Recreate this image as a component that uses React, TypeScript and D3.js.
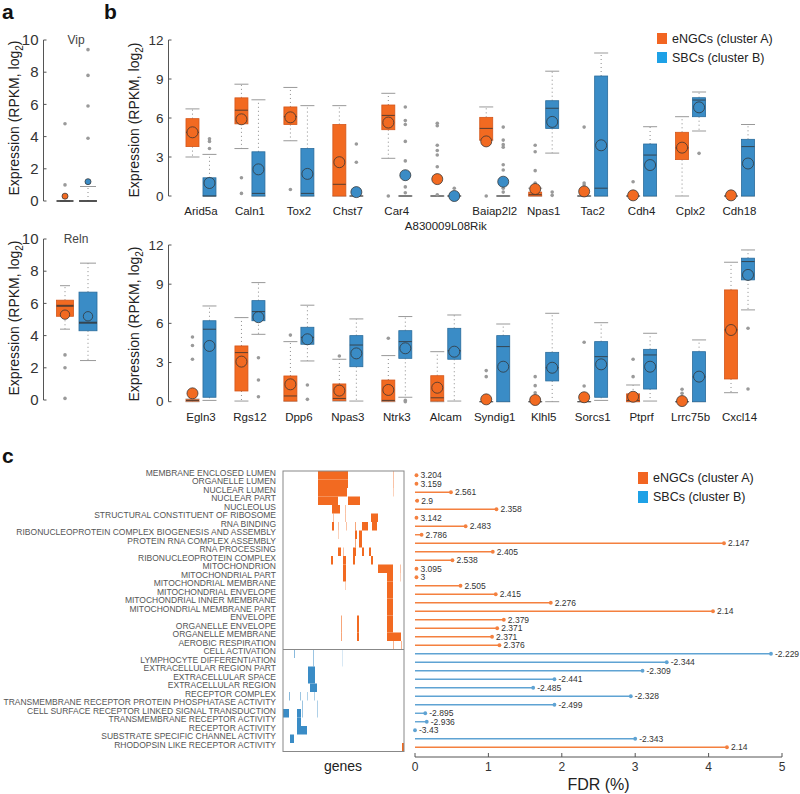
import React from "react";
import * as d3 from "d3";

const ORANGE = "#f26a21";
const ORANGE_LINE = "#d4561a";
const BLUE = "#3a8cc6";
const BLUE_LINE = "#2a6c9c";
const LEG_ORANGE = "#f26522";
const LEG_BLUE = "#1ea1e6";
const LOLLI_ORANGE = "#f4803f";
const LOLLI_BLUE = "#5fa3d3";
const FONT = "'Liberation Sans', Arial, Helvetica, sans-serif";

// box stats: [whiskerLow, q1, median, q3, whiskerHigh, mean]
const panelAGenes = ["Vip", "Reln"];
const panelAEngc = [
  [0, 0, 0, 0, 0, 0.3],
  [4.4, 5.2, 5.85, 6.2, 7.1, 5.3],
];
const panelAEngcOut = [[4.8, 1.0], [2.8, 2.0, 0.1]];
const panelASbc = [
  [0, 0, 0, 0, 0.9, 1.2],
  [2.45, 4.3, 4.8, 6.7, 8.5, 5.2],
];
const panelASbcOut = [[9.4, 7.8, 5.9, 3.9], []];
const panelATicks = [0, 2, 4, 6, 8, 10];

const topGenes = ["Arid5a", "Caln1", "Tox2", "Chst7", "Car4", "A830009L08Rik", "Baiap2l2", "Npas1", "Tac2", "Cdh4", "Cplx2", "Cdh18"];
const topEngc = [
  [3.0, 3.8, 4.9, 5.95, 6.7, 4.9],
  [3.65, 5.55, 6.6, 7.55, 8.6, 5.9],
  [4.25, 5.5, 6.1, 6.85, 8.35, 6.05],
  [0, 0, 0.9, 5.5, 6.95, 2.6],
  [2.9, 5.1, 6.2, 7.0, 7.9, 5.65],
  [0, 0, 0, 0, 0, 1.3],
  [4.3, 4.3, 5.2, 6.05, 6.85, 4.2],
  [0, 0, 0.1, 0.3, 0.6, 0.54],
  [0, 0, 0, 0, 0, 0.35],
  [0, 0, 0, 0, 0, 0.05],
  [0, 2.8, 3.7, 4.9, 6.1, 3.72],
  [0, 0, 0, 0, 0, 0.05],
];
const topEngcOut = [
  [], [1.4, 0.2], [0.5], [], [0],
  [5.6, 5.4, 3.9, 3.5, 3.15, 2.25, 0.1],
  [0], [3.9, 3.4, 1.95, 1.0, 0.85], [5.3, 1.0, 0.85], [1.1], [], [],
];
const topSbc = [
  [0, 0, 0, 1.4, 3.2, 1.0],
  [0, 0, 0.2, 3.4, 7.4, 2.05],
  [0, 0, 0.2, 3.65, 6.95, 1.7],
  [0, 0, 0, 0, 0, 0.3],
  [0, 0, 0, 0, 0, 1.6],
  [0, 0, 0, 0, 0, 0],
  [0, 0, 0, 0, 0, 1.1],
  [3.3, 5.2, 6.75, 7.33, 9.6, 5.7],
  [0, 0, 0.6, 9.23, 11.0, 3.9],
  [0, 0, 3.15, 4.0, 5.33, 2.38],
  [5.0, 6.1, 7.38, 7.56, 8.0, 6.82],
  [0, 0, 3.8, 4.36, 5.5, 2.5],
];
const topSbcOut = [
  [4.4, 4.2, 3.65], [], [], [4.0, 2.6],
  [6.85, 5.8, 5.5, 4.2, 2.7, 0.7, 0.25],
  [0.6, 0.15],
  [5.3, 4.3, 3.95, 3.75, 2.4, 2.0, 0.6, 0.3],
  [0.3, 0.05], [], [], [3.28], [],
];

const botGenes = ["Egln3", "Rgs12", "Dpp6", "Npas3", "Ntrk3", "Alcam", "Syndig1", "Klhl5", "Sorcs1", "Ptprf", "Lrrc75b", "Cxcl14"];
const botEngc = [
  [0, 0.05, 0.1, 0.15, 0.2, 0.64],
  [0.05, 0.82, 3.76, 4.27, 6.44, 3.07],
  [0.05, 0.05, 0.44, 1.97, 4.6, 1.33],
  [0.05, 0.1, 0.25, 1.36, 3.25, 0.85],
  [0, 0.05, 0.1, 1.66, 3.53, 0.9],
  [0, 0.05, 0.3, 1.99, 3.83, 1.07],
  [0, 0, 0, 0, 0, 0.18],
  [0, 0, 0, 0, 0, 0.13],
  [0, 0, 0, 0, 0, 0.34],
  [0, 0, 0.1, 0.6, 1.28, 0.38],
  [0, 0, 0, 0, 0, 0.05],
  [0.69, 1.74, 5.5, 8.56, 10.68, 5.49],
];
const botEngcOut = [
  [4.96, 4.3, 3.25, 0.3], [], [5.1], [3.5], [4.86], [],
  [2.38, 1.92], [1.92, 1.23, 0.69], [4.55, 1.2], [3.25, 1.92], [0.95, 0.64], [],
];
const botSbc = [
  [0.1, 0.34, 5.55, 6.2, 7.33, 4.27],
  [5.16, 6.2, 6.9, 7.74, 9.12, 6.47],
  [3.12, 4.4, 4.93, 5.7, 7.39, 4.78],
  [0.05, 2.68, 4.34, 5.06, 6.34, 3.7],
  [0.34, 3.32, 4.6, 5.44, 6.52, 4.09],
  [0.05, 3.25, 3.9, 5.62, 6.64, 3.83],
  [0, 0, 4.22, 5.06, 5.95, 2.68],
  [0, 1.59, 2.6, 3.78, 6.77, 2.6],
  [0.1, 0.34, 3.45, 4.6, 6.05, 2.86],
  [0.05, 0.97, 3.58, 4.01, 5.24, 2.68],
  [0, 0, 1.9, 3.83, 4.73, 1.92],
  [7.03, 9.33, 10.73, 10.99, 11.62, 9.71],
];
const botSbcOut = [
  [], [3.37, 1.66, 0.38], [1.28, 0.18], [], [0.1, 0.0], [],
  [], [], [], [], [], [5.62, 0.97],
];
const panelBTicks = [0, 3, 6, 9, 12];

const terms = [
  "MEMBRANE ENCLOSED LUMEN", "ORGANELLE LUMEN", "NUCLEAR LUMEN", "NUCLEAR PART", "NUCLEOLUS",
  "STRUCTURAL CONSTITUENT OF RIBOSOME", "RNA BINDING", "RIBONUCLEOPROTEIN COMPLEX BIOGENESIS AND ASSEMBLY",
  "PROTEIN RNA COMPLEX ASSEMBLY", "RNA PROCESSING", "RIBONUCLEOPROTEIN COMPLEX", "MITOCHONDRION",
  "MITOCHONDRIAL PART", "MITOCHONDRIAL MEMBRANE", "MITOCHONDRIAL ENVELOPE", "MITOCHONDRIAL INNER MEMBRANE",
  "MITOCHONDRIAL MEMBRANE PART", "ENVELOPE", "ORGANELLE ENVELOPE", "ORGANELLE MEMBRANE", "AEROBIC RESPIRATION",
  "CELL ACTIVATION", "LYMPHOCYTE DIFFERENTIATION", "EXTRACELLULAR REGION PART", "EXTRACELLULAR SPACE",
  "EXTRACELLULAR REGION", "RECEPTOR COMPLEX", "TRANSMEMBRANE RECEPTOR PROTEIN PHOSPHATASE ACTIVITY",
  "CELL SURFACE RECEPTOR LINKED SIGNAL TRANSDUCTION", "TRANSMEMBRANE RECEPTOR ACTIVITY", "RECEPTOR ACTIVITY",
  "SUBSTRATE SPECIFIC CHANNEL ACTIVITY", "RHODOPSIN LIKE RECEPTOR ACTIVITY",
];
const termScore = [
  "3.204", "3.159", "2.561", "2.9", "2.358", "3.142", "2.483", "2.786", "2.147", "2.405", "2.538",
  "3.095", "3", "2.505", "2.415", "2.276", "2.14", "2.379", "2.371", "2.371", "2.376",
  "-2.229", "-2.344", "-2.309", "-2.441", "-2.485", "-2.328", "-2.499", "-2.895", "-2.936", "-3.43",
  "-2.343", "2.14",
];
const termFdr = [
  0.02, 0.02, 0.49, 0.03, 1.11, 0.02, 0.69, 0.09, 4.21, 1.06, 0.51, 0.02, 0.02, 0.62, 1.1, 1.85,
  4.06, 1.21, 1.12, 1.05, 1.15, 4.85, 3.43, 3.1, 1.9, 1.61, 2.94, 1.9, 0.14, 0.16, 0.0, 3.0, 4.25,
];
const fdrTicks = [0, 1, 2, 3, 4, 5];

// leading-edge gene membership: [term row, first gene, last gene, intensity]
const heatRuns = [
  [0, 35, 65, 1], [0, 110, 111, 0.4], [1, 35, 65, 1], [1, 110, 111, 0.4],
  [2, 35, 64, 1], [2, 110, 111, 0.3], [3, 35, 55, 1], [3, 65, 77, 1],
  [4, 49, 57, 1], [4, 62, 63, 0.4], [5, 88, 95, 1], [5, 62, 63, 0.4], [5, 50, 51, 0.4],
  [6, 49, 51, 1], [6, 72, 73, 0.6], [6, 79, 85, 1], [6, 89, 94, 1], [6, 55, 56, 0.4], [6, 63, 64, 0.4],
  [7, 72, 74, 1], [7, 76, 79, 1], [7, 55, 56, 0.3], [8, 76, 79, 1], [8, 72, 73, 0.6],
  [9, 55, 58, 1], [9, 70, 73, 1], [9, 79, 81, 1], [9, 86, 88, 1], [9, 60, 61, 0.4],
  [10, 48, 50, 1], [10, 60, 63, 1], [10, 70, 72, 1], [10, 88, 90, 1],
  [11, 95, 110, 1], [11, 60, 63, 1], [11, 117, 118, 0.4],
  [12, 104, 110, 1], [12, 60, 63, 1], [12, 117, 118, 0.3], [13, 104, 110, 1], [13, 62, 63, 0.3],
  [14, 104, 110, 1], [15, 104, 110, 1], [16, 104, 110, 1],
  [17, 104, 110, 1], [17, 58, 59, 0.6], [17, 74, 76, 1],
  [18, 104, 110, 1], [18, 58, 59, 0.6], [18, 74, 76, 1],
  [19, 104, 118, 1], [19, 58, 59, 0.6], [19, 74, 76, 1],
  [20, 110, 111, 0.5], [20, 118, 119, 0.5],
  [21, 11, 12, 0.6], [21, 30, 31, 0.5], [21, 59, 60, 0.2], [22, 30, 31, 0.5], [22, 59, 60, 0.2],
  [23, 25, 32, 1], [24, 25, 32, 1], [25, 27, 34, 1],
  [26, 6, 7, 0.6], [26, 17, 18, 0.5], [26, 24, 25, 0.4], [26, 31, 32, 0.4],
  [27, 19, 20, 0.5], [27, 34, 35, 0.4],
  [28, 0, 6, 1], [28, 14, 18, 1], [28, 19, 20, 0.5], [28, 34, 35, 0.4],
  [29, 14, 18, 1], [30, 14, 24, 1], [31, 7, 11, 1], [32, 119, 121, 1],
];
const geneCount = 121;

function Box({ cx, y, s, out, fill, stroke, w, r, capW, medW }) {
  const [lo, q1, med, q3, hi, mean] = s;
  return (
    <g>
      {hi > q3 && <line x1={cx} x2={cx} y1={y(q3)} y2={y(hi)} stroke="#8a8a8a" strokeDasharray="1,3" />}
      {lo < q1 && <line x1={cx} x2={cx} y1={y(q1)} y2={y(lo)} stroke="#8a8a8a" strokeDasharray="1,3" />}
      <line x1={cx - capW / 2} x2={cx + capW / 2} y1={y(hi)} y2={y(hi)} stroke="#999" />
      <line x1={cx - capW / 2} x2={cx + capW / 2} y1={y(lo)} y2={y(lo)} stroke="#999" />
      <rect x={cx - w / 2} y={y(q3)} width={w} height={Math.max(0, y(q1) - y(q3))} fill={fill} stroke={stroke} strokeWidth={0.8} />
      <line x1={cx - w / 2} x2={cx + w / 2} y1={y(med)} y2={y(med)} stroke="#333" strokeOpacity={0.8} strokeWidth={medW} />
      {out.map((v, i) => (
        <circle key={i} cx={cx} cy={y(v)} r={1.8} fill="#9a9a9a" />
      ))}
      <circle cx={cx} cy={y(mean)} r={r} fill={fill} stroke="#333" strokeOpacity={0.75} strokeWidth={1} />
    </g>
  );
}

function YAxis({ x, y, ticks, fontSize }) {
  const [y0, y1] = y.range();
  return (
    <g fontFamily={FONT}>
      <line x1={x} x2={x} y1={y0} y2={y1} stroke="#555" />
      {ticks.map((t) => (
        <g key={t}>
          <line x1={x} x2={x + 3} y1={y(t)} y2={y(t)} stroke="#555" />
          <text x={x - 5} y={y(t)} dy="0.35em" textAnchor="end" fontSize={fontSize} fill="#333">{t}</text>
        </g>
      ))}
    </g>
  );
}

function YTitle({ x, cy }) {
  return (
    <text transform={`translate(${x},${cy}) rotate(-90)`} textAnchor="middle" fontFamily={FONT} fontSize={14} fill="#222">
      Expression (RPKM, log<tspan dy="4" fontSize={10}>2</tspan><tspan dy="-4">)</tspan>
    </text>
  );
}

function BoxRow({ genes, engc, engcOut, sbc, sbcOut, y, labelY }) {
  const x = d3.scaleBand().domain(genes).range([176.5, 764]);
  const off = 8.5;
  return (
    <g>
      {genes.map((g, i) => {
        const c = x(g) + x.bandwidth() / 2;
        return (
          <g key={g}>
            <Box cx={c - off} y={y} s={engc[i]} out={engcOut[i]} fill={ORANGE} stroke={ORANGE_LINE} w={13} r={5.5} capW={14} medW={1} />
            <Box cx={c + off} y={y} s={sbc[i]} out={sbcOut[i]} fill={BLUE} stroke={BLUE_LINE} w={13} r={5.5} capW={14} medW={1} />
            <text x={c} y={g === "A830009L08Rik" ? labelY + 15 : labelY} textAnchor="middle" fontFamily={FONT} fontSize={11.5} fill="#222">{g}</text>
          </g>
        );
      })}
    </g>
  );
}

function Legend({ x, y, gap, h }) {
  return (
    <g fontFamily={FONT} fontSize={12.5} fill="#222">
      <rect x={x} y={y} width={10} height={h} fill={LEG_ORANGE} />
      <text x={x + 15} y={y + h / 2} dy="0.35em">eNGCs (cluster A)</text>
      <rect x={x} y={y + gap} width={10} height={h} fill={LEG_BLUE} />
      <text x={x + 15} y={y + gap + h / 2} dy="0.35em">SBCs (cluster B)</text>
    </g>
  );
}

export default function App() {
  const yA = [
    d3.scaleLinear().domain([0, 10]).range([201, 40]),
    d3.scaleLinear().domain([0, 10]).range([400, 239]),
  ];
  const yTop = d3.scaleLinear().domain([0, 12]).range([196, 40]);
  const yBot = d3.scaleLinear().domain([0, 12]).range([401.7, 245]);

  const rows = d3.scaleBand().domain(d3.range(terms.length)).range([471, 751.5]);
  const hx = d3.scaleLinear().domain([0, geneCount]).range([283, 404]);
  const fx = d3.scaleLinear().domain([0, 5]).range([415, 782]);
  const splitRow = termScore.findIndex((s) => s.startsWith("-"));

  return (
    <svg width={800} height={794} style={{ position: "absolute", left: 0, top: 0, background: "#fff" }}>
      {/* panel letters */}
      <g fontFamily={FONT} fontWeight="bold" fontSize={21} fill="#111">
        <text x={2} y={19}>a</text>
        <text x={104} y={19}>b</text>
        <text x={2} y={463}>c</text>
      </g>

      {/* panel a */}
      {panelAGenes.map((g, i) => (
        <g key={g}>
          <YAxis x={43.5} y={yA[i]} ticks={panelATicks} fontSize={15} />
          <YTitle x={19} cy={i === 0 ? 118 : 318} />
          <text x={76} y={yA[i](10) + 4} textAnchor="middle" fontFamily={FONT} fontSize={12} fill="#444">{g}</text>
          <Box cx={65} y={yA[i]} s={panelAEngc[i]} out={panelAEngcOut[i]} fill={ORANGE} stroke={ORANGE_LINE} w={17} r={i === 0 ? 3 : 4.7} capW={10} medW={2} />
          <Box cx={88} y={yA[i]} s={panelASbc[i]} out={panelASbcOut[i]} fill={BLUE} stroke={BLUE_LINE} w={18} r={i === 0 ? 3 : 4.7} capW={16} medW={2} />
        </g>
      ))}

      {/* panel b */}
      <YAxis x={168.5} y={yTop} ticks={panelBTicks} fontSize={13.5} />
      <YTitle x={139} cy={120} />
      <BoxRow genes={topGenes} engc={topEngc} engcOut={topEngcOut} sbc={topSbc} sbcOut={topSbcOut} y={yTop} labelY={215} />
      <YAxis x={168.5} y={yBot} ticks={panelBTicks} fontSize={13.5} />
      <YTitle x={139} cy={324} />
      <BoxRow genes={botGenes} engc={botEngc} engcOut={botEngcOut} sbc={botSbc} sbcOut={botSbcOut} y={yBot} labelY={421} />
      <Legend x={657} y={33} gap={19} h={11} />

      {/* panel c: term labels */}
      <g fontFamily={FONT} fontSize={8.5} fill="#555" textAnchor="end">
        {terms.map((t, i) => (
          <text key={t} x={276} y={rows(i) + rows.bandwidth() / 2 + 0.5}>{t}</text>
        ))}
      </g>

      {/* panel c: heatmap */}
      <g>
        {heatRuns.map(([r, c0, c1, a], i) => (
          <rect key={i} x={hx(c0)} y={rows(r)} width={hx(c1) - hx(c0)} height={rows.bandwidth()}
            fill={termScore[r].startsWith("-") ? BLUE : ORANGE} fillOpacity={a} />
        ))}
        <rect x={hx(0)} y={rows(0)} width={hx(geneCount) - hx(0)} height={rows.step() * terms.length} fill="none" stroke="#888" />
        <line x1={hx(0)} x2={hx(geneCount)} y1={rows(splitRow)} y2={rows(splitRow)} stroke="#888" />
        <text x={343} y={766} dy="0.35em" textAnchor="middle" fontFamily={FONT} fontSize={14} fill="#222">genes</text>
      </g>

      {/* panel c: lollipops */}
      <g fontFamily={FONT}>
        {terms.map((t, i) => {
          const cy = rows(i) + rows.bandwidth() / 2;
          const col = termScore[i].startsWith("-") ? LOLLI_BLUE : LOLLI_ORANGE;
          return (
            <g key={t}>
              <line x1={fx(0)} x2={fx(termFdr[i])} y1={cy} y2={cy} stroke={col} strokeWidth={1.4} />
              <circle cx={fx(termFdr[i])} cy={cy} r={1.9} fill={col} />
              <text x={fx(termFdr[i]) + 4} y={cy} dy="0.35em" fontSize={8.5} fill="#333">{termScore[i]}</text>
            </g>
          );
        })}
        <line x1={fx(0)} x2={fx(5)} y1={757} y2={757} stroke="#555" />
        {fdrTicks.map((t) => (
          <g key={t}>
            <line x1={fx(t)} x2={fx(t)} y1={757} y2={753} stroke="#555" />
            <text x={fx(t)} y={767} dy="0.35em" textAnchor="middle" fontSize={12} fill="#333">{t}</text>
          </g>
        ))}
        <text x={fx(2.5)} y={784} dy="0.35em" textAnchor="middle" fontSize={16} fill="#222">FDR (%)</text>
      </g>
      <Legend x={638} y={472} gap={19} h={12} />
    </svg>
  );
}
